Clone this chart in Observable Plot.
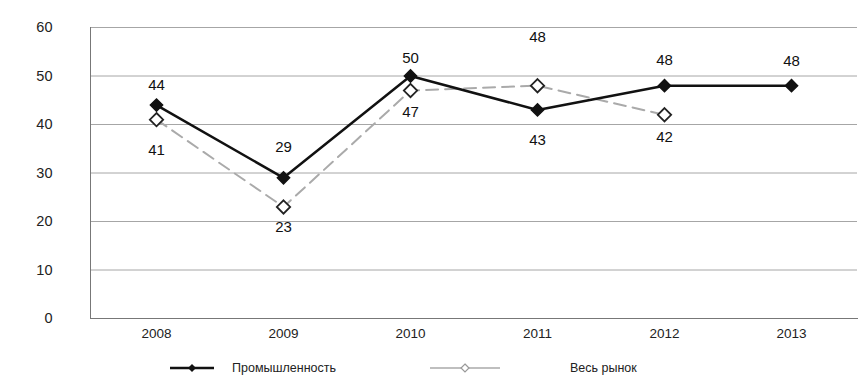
<!DOCTYPE html>
<html><head><meta charset="utf-8">
<script src="https://cdn.jsdelivr.net/npm/d3@7"></script>
<script src="https://cdn.jsdelivr.net/npm/@observablehq/plot@0.6"></script>
<style>
body{margin:0;background:#fff;font-family:"Liberation Sans",Arial,sans-serif;}
#wrap{position:relative;width:863px;height:384px;}
.leg{position:absolute;top:358px;font-size:12.5px;color:#222;display:flex;align-items:center;}
</style></head><body>
<div id="wrap"><div id="chart"></div>
<div class="leg" style="left:168px"><svg width="48" height="20"><line x1="2" y1="10" x2="46" y2="10" stroke="#111" stroke-width="2.5"/><path d="M24,6 L28,10 L24,14 L20,10Z" fill="#111"/></svg><span style="margin-left:16px">Промышленность</span></div>
<div class="leg" style="left:428px"><svg width="74" height="20"><line x1="2" y1="10" x2="72" y2="10" stroke="#aaa" stroke-width="1.5"/><path d="M37,6 L41,10 L37,14 L33,10Z" fill="#fff" stroke="#999" stroke-width="1.2"/></svg><span style="margin-left:68px">Весь рынок</span></div>
</div>
<script>
const years = ["2008","2009","2010","2011","2012","2013"];
const industry = [44, 29, 50, 43, 48, 48];
const marketYears = ["2008","2009","2010","2011","2012"];
const market = [41, 23, 47, 48, 42];
const yTicks = [0,10,20,30,40,50,60];

const ind = years.map((y,i)=>({year:y, v:industry[i]}));
const mkt = marketYears.map((y,i)=>({year:y, v:market[i]}));

// label vertical offsets (styling, px)
const indOffsets = [-20, -31, -18, 30, -26, -25];
const mktOffsets = [31, 20, 22, -49, 22];

const labelMarks = [
  ...ind.map((d,i)=>Plot.text([d], {x:"year", y:"v", text:d=>String(d.v), fontSize:15, fill:"#111", dy:indOffsets[i]})),
  ...mkt.map((d,i)=>Plot.text([d], {x:"year", y:"v", text:d=>String(d.v), fontSize:15, fill:"#111", dy:mktOffsets[i]}))
];

const chart = Plot.plot({
  width:863, height:350,
  marginLeft:90, marginRight:6, marginTop:27, marginBottom:32,
  style:{fontFamily:"Liberation Sans, Arial, sans-serif", fontSize:"14px", color:"#222"},
  x:{type:"point", domain:years, padding:0.5, label:null},
  y:{domain:[0,60], label:null},
  marks:[
    Plot.gridY(yTicks, {stroke:"#888", strokeOpacity:0.75, strokeWidth:1}),
    Plot.axisY(yTicks, {tickSize:0, tickPadding:38, fontSize:14.5, fill:"#222", label:null}),
    Plot.axisX({tickSize:0, tickPadding:10, fontSize:13.5, fill:"#222", label:null}),
    Plot.frame({anchor:"left", stroke:"#777"}),
    Plot.frame({anchor:"bottom", stroke:"#777"}),
    Plot.line(mkt, {x:"year", y:"v", stroke:"#aaa", strokeWidth:2, strokeDasharray:"12,7"}),
    Plot.line(ind, {x:"year", y:"v", stroke:"#111", strokeWidth:2.5}),
    Plot.dot(mkt, {x:"year", y:"v", symbol:"diamond2", r:6, fill:"#fff", stroke:"#222", strokeWidth:1.8}),
    Plot.dot(ind, {x:"year", y:"v", symbol:"diamond2", r:5.5, fill:"#111", stroke:"#111"}),
    ...labelMarks
  ]
});
document.getElementById("chart").appendChild(chart);
</script>
</body></html>
